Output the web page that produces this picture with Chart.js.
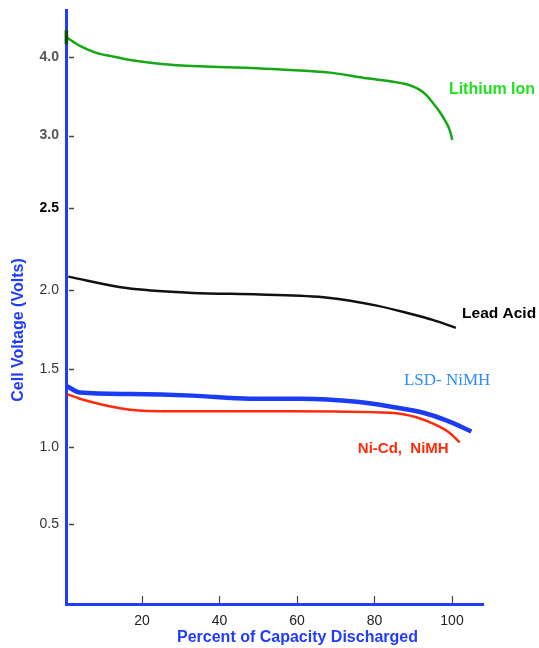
<!DOCTYPE html>
<html><head><meta charset="utf-8">
<script src="https://cdn.jsdelivr.net/npm/chart.js@4.4.0/dist/chart.umd.min.js"></script>
<style>html,body{margin:0;padding:0;background:#fff;overflow:hidden}#wrap{width:539px;height:648px;position:relative}</style>
</head><body><div id="wrap"><canvas id="c"></canvas></div>
<script>
// ---- data ----
const yTickValues = [0.5, 1.0, 1.5, 2.0, 2.5, 3.0, 4.0];
const xTickValues = [20, 40, 60, 80, 100];
const seriesNames = ['Lithium Ion', 'Lead Acid', 'LSD- NiMH', 'Ni-Cd,  NiMH'];

const liIonX = [0.5, 4, 8, 12, 17, 25, 35, 48, 56, 68.5, 77, 88.3, 90.0, 91.7, 93.4, 95.1, 96.8, 98.5, 99.4, 100.1];
const liIonY = [4.25, 4.14, 4.055, 4.01, 3.96, 3.91, 3.88, 3.86, 3.84, 3.80, 3.735, 3.653, 3.623, 3.581, 3.514, 3.413, 3.302, 3.166, 3.07, 2.97];

const leadX = [1, 16, 33, 50.5, 68, 80.6, 89, 95, 101];
const leadY = [2.08, 2.01, 1.98, 1.97, 1.95, 1.90, 1.85, 1.81, 1.76];

const lsdX = [0.7, 4, 17, 33, 48, 61, 75.5, 84, 92.6, 98.7, 105];
const lsdY = [1.39, 1.35, 1.34, 1.33, 1.31, 1.31, 1.29, 1.26, 1.22, 1.17, 1.10];

const nicdX = [0.7, 4, 12, 17, 27, 45, 58, 84, 91, 96, 99.4, 102];
const nicdY = [1.34, 1.31, 1.26, 1.24, 1.23, 1.23, 1.23, 1.22, 1.19, 1.14, 1.09, 1.03];

// ---- broken (hand-drawn) voltage scale: piecewise linear through its tick knots ----
const scaleKnotsV = [0, 0.5, 1.0, 1.5, 2.0, 2.5, 3.0, 4.0];
const scaleKnotsU = [0, 1.0, 1.99, 2.99, 4.01, 5.06, 5.99, 7.0];
function interp(v, xs, ys) {
  let i = 0;
  if (v <= xs[0]) i = 0;
  else if (v >= xs[xs.length - 1]) i = xs.length - 2;
  else { while (i < xs.length - 2 && v > xs[i + 1]) i++; }
  return ys[i] + (v - xs[i]) * (ys[i + 1] - ys[i]) / (xs[i + 1] - xs[i]);
}
const voltToU = v => interp(v, scaleKnotsV, scaleKnotsU);
const uToVolt = u => interp(u, scaleKnotsU, scaleKnotsV);
class BrokenVoltScale extends Chart.LinearScale {
  getPixelForValue(value) {
    const a = voltToU(this.min), b = voltToU(this.max);
    return this.getPixelForDecimal((voltToU(value) - a) / (b - a));
  }
  getValueForPixel(pixel) {
    const a = voltToU(this.min), b = voltToU(this.max);
    return uToVolt(a + this.getDecimalForPixel(pixel) * (b - a));
  }
}
BrokenVoltScale.id = 'brokenVolt';
BrokenVoltScale.defaults = {};
Chart.register(BrokenVoltScale);

const zip = (xs, ys) => xs.map((x, i) => ({ x, y: ys[i] }));
const AXIS_BLUE = '#1f3cff';

const labelAnchors = [
  { text: seriesNames[0], x: 99.2, y: 3.58, color: '#1ee21e', font: 'bold 16px "Liberation Sans", Arial, sans-serif' },
  { text: seriesNames[1], x: 102.6, y: 1.846, color: '#000000', font: 'bold 15.5px "Liberation Sans", Arial, sans-serif' },
  { text: seriesNames[2], x: 87.6, y: 1.43, color: '#2e8bff', font: '17px "Liberation Serif", "Times New Roman", serif' },
  { text: seriesNames[3], x: 75.7, y: 0.987, color: '#ff2a0a', font: 'bold 15px "Liberation Sans", Arial, sans-serif' }
];

const decorPlugin = {
  id: 'decor',
  afterDraw(chart) {
    const { ctx, scales: { x, y }, chartArea } = chart;
    ctx.save();
    ctx.strokeStyle = '#444';
    ctx.lineWidth = 1.5;
    y.ticks.forEach(t => {
      const py = Math.round(y.getPixelForValue(t.value)) + 0.5;
      ctx.beginPath(); ctx.moveTo(chartArea.left + 3, py); ctx.lineTo(chartArea.left + 8, py); ctx.stroke();
    });
    ctx.lineWidth = 1.2;
    x.ticks.forEach(t => {
      const px = Math.round(x.getPixelForValue(t.value)) + 0.5;
      ctx.beginPath(); ctx.moveTo(px, chartArea.bottom - 1); ctx.lineTo(px, chartArea.bottom - 8); ctx.stroke();
    });
    ctx.textBaseline = 'middle';
    ctx.textAlign = 'left';
    labelAnchors.forEach(l => {
      ctx.font = l.font;
      ctx.fillStyle = l.color;
      ctx.fillText(l.text, x.getPixelForValue(l.x), y.getPixelForValue(l.y));
    });
    ctx.fillStyle = AXIS_BLUE;
    ctx.font = 'bold 16px "Liberation Sans", Arial, sans-serif';
    ctx.textAlign = 'center';
    ctx.fillText('Percent of Capacity Discharged', 297.5, 638);
    ctx.save();
    ctx.translate(18.5, 330);
    ctx.rotate(-Math.PI / 2);
    ctx.fillText('Cell Voltage (Volts)', 0, 0);
    ctx.restore();
    ctx.restore();
  }
};

const lineBase = { fill: false, pointRadius: 0, cubicInterpolationMode: 'monotone', clip: false };

new Chart(document.getElementById('c'), {
  type: 'line',
  data: {
    datasets: [
      Object.assign({}, lineBase, {
        label: seriesNames[0], data: zip(liIonX, liIonY), borderColor: '#14a814', borderWidth: 2.5,
        pointRadius: ctx => ctx.dataIndex === 0 ? 7 : 0,
        pointStyle: 'line', rotation: 90, pointBorderColor: '#0b4d0b', pointBorderWidth: 3.5
      }),
      Object.assign({}, lineBase, { label: seriesNames[1], data: zip(leadX, leadY), borderColor: '#111111', borderWidth: 2.5 }),
      Object.assign({}, lineBase, { label: seriesNames[2], data: zip(lsdX, lsdY), borderColor: '#1a3cf5', borderWidth: 4.5 }),
      Object.assign({}, lineBase, { label: seriesNames[3], data: zip(nicdX, nicdY), borderColor: '#ff2a0a', borderWidth: 2.5 })
    ]
  },
  options: {
    responsive: true,
    maintainAspectRatio: false,
    animation: false,
    layout: { padding: { top: 10, right: 56, left: 0, bottom: 0 } },
    plugins: { legend: { display: false }, tooltip: { enabled: false } },
    scales: {
      x: {
        type: 'linear', min: 0.4, max: 108,
        afterBuildTicks: s => { s.ticks = xTickValues.map(v => ({ value: v })); },
        afterFit: s => { s.height = 44; s.paddingLeft = 0; s.paddingRight = 0; },
        grid: { display: true, drawOnChartArea: false, drawTicks: false },
        border: { display: true, color: AXIS_BLUE, width: 3 },
        ticks: { autoSkip: false, maxRotation: 0, padding: 9, color: '#222',
          font: { family: '"Liberation Sans", Arial, sans-serif', size: 14 },
          callback: v => String(v) }
      },
      y: {
        type: 'brokenVolt', min: -0.013, max: 4.59,
        afterBuildTicks: s => { s.ticks = yTickValues.map(v => ({ value: v })); },
        afterFit: s => { s.width = 66; s.paddingTop = 0; s.paddingBottom = 0; },
        grid: { display: true, drawOnChartArea: false, drawTicks: false },
        border: { display: true, color: AXIS_BLUE, width: 3 },
        ticks: { autoSkip: false, padding: 7,
          color: ctx => {
            const v = ctx.tick && ctx.tick.value;
            if (v === 2.5) return '#000';
            if (v === 3.0 || v === 4.0) return '#555';
            return '#333';
          },
          font: ctx => {
            const v = ctx.tick && ctx.tick.value;
            const bold = (v === 2.5 || v === 3.0 || v === 4.0);
            return { family: '"Liberation Sans", Arial, sans-serif', size: 14, weight: bold ? 'bold' : 'normal' };
          },
          callback: v => Number(v).toFixed(1) }
      }
    }
  },
  plugins: [decorPlugin]
});
</script>
</body></html>
